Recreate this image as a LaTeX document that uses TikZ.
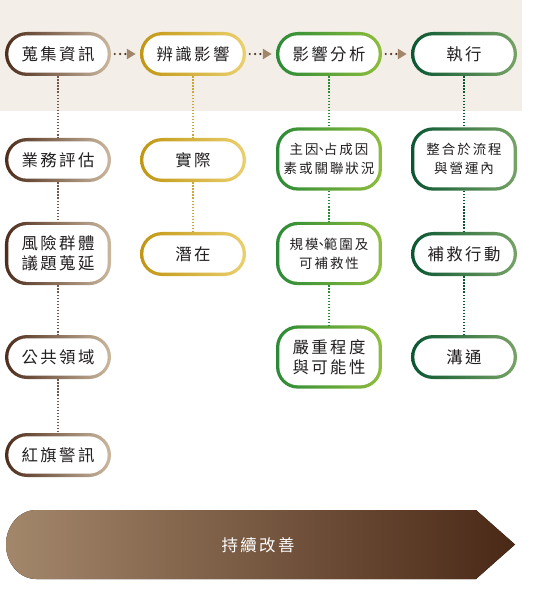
\documentclass[tikz,border=0pt]{standalone}
\usepackage{fontspec}
\newfontfamily\cjk[LetterSpace=15]{Noto Sans CJK TC}
\usetikzlibrary{arrows.meta, calc}

\definecolor{bandbg}{HTML}{F3EEE7}
\definecolor{brownL}{HTML}{4E2D1C}
\definecolor{brownR}{HTML}{CBB89F}
\definecolor{goldL}{HTML}{C19614}
\definecolor{goldR}{HTML}{EBD06F}
\definecolor{greenL}{HTML}{2B8A36}
\definecolor{greenR}{HTML}{8FBD3D}
\definecolor{dgreenL}{HTML}{0A5631}
\definecolor{dgreenR}{HTML}{77A366}
\definecolor{bannerL}{HTML}{A3876B}
\definecolor{bannerR}{HTML}{4A2816}
\definecolor{dotbrown}{HTML}{4E3022}
\definecolor{tipbrown}{HTML}{A2866A}
\definecolor{inktext}{HTML}{231F20}

\newcommand{\dunhao}{\kern-0.3em、\kern-0.3em}

\begin{document}
\begin{tikzpicture}[
    x=0.03cm, y=-0.03cm,
    pill/.style={minimum width=3.18cm, minimum height=1.32cm, rounded corners=0.66cm,
        inner sep=0pt, align=center, text=inktext, font=\cjk\fontsize{14}{17}\selectfont,
        path picture={\fill[white, rounded corners=0.56cm]
            ($(path picture bounding box.south west)+(0.1cm,0.1cm)$) rectangle
            ($(path picture bounding box.north east)-(0.1cm,0.1cm)$);}},
    tallpill/.style={pill, minimum height=1.9cm},
    smalltext/.style={font=\cjk\fontsize{11.5}{16.5}\selectfont},
    brownpill/.style={pill, left color=brownL, right color=brownR},
    goldpill/.style={pill, left color=goldL, right color=goldR},
    greenpill/.style={pill, left color=greenL, right color=greenR},
    dgreenpill/.style={pill, left color=dgreenL, right color=dgreenR},
    flowarrow/.style={dotbrown, line width=2.1pt, line cap=round, dash pattern=on 0pt off 4.5pt,
        shorten <=3pt, shorten >=3.5pt, -{Triangle[length=7.5pt, width=8.5pt, color=tipbrown]}},
    chain/.style={line width=1.2pt, dash pattern=on 1.2pt off 1.4pt},
]

\useasboundingbox (0,0) rectangle (534,595);

% Top band
\fill[bandbg] (0,0) rectangle (522,111);

% Main steps
\node[brownpill] (collect) at (58,54) {蒐集資訊};
\node[goldpill] (identify) at (193,54) {辨識影響};
\node[greenpill] (analyse) at (329,54) {影響分析};
\node[dgreenpill] (execute) at (464,54) {執行};

% Column 1
\node[brownpill] (bizeval) at (58,160) {業務評估};
\node[brownpill, tallpill] (riskgrp) at (58,253.5) {風險群體\\議題蒐延};
\node[brownpill] (public) at (58,357) {公共領域};
\node[brownpill] (redflag) at (58,455) {紅旗警訊};

% Column 2
\node[goldpill] (actual) at (193,160) {實際};
\node[goldpill] (latent) at (193,254) {潛在};

% Column 3
\node[greenpill, tallpill, smalltext] (cause) at (329,159) {主因\dunhao 占成因\\素或關聯狀況};
\node[greenpill, tallpill, smalltext] (scope) at (329,253.5) {規模\dunhao 範圍及\\可補救性};
\node[greenpill, tallpill] (severity) at (329,357) {嚴重程度\\與可能性};

% Column 4
\node[dgreenpill, tallpill, smalltext] (integrate) at (464,159) {整合於流程\\與營運內};
\node[dgreenpill] (remedy) at (464,254) {補救行動};
\node[dgreenpill] (comm) at (464,357) {溝通};

% Flow between main steps
\draw[flowarrow] (collect.east) -- (identify.west);
\draw[flowarrow] (identify.east) -- (analyse.west);
\draw[flowarrow] (analyse.east) -- (execute.west);

% Vertical chains
\draw[chain, brownL!80] (collect.south) -- (bizeval.north) (bizeval.south) -- (riskgrp.north)
    (riskgrp.south) -- (public.north) (public.south) -- (redflag.north);
\draw[chain, goldL!85] (identify.south) -- (actual.north) (actual.south) -- (latent.north);
\draw[chain, greenL] (analyse.south) -- (cause.north) (cause.south) -- (scope.north)
    (scope.south) -- (severity.north);
\draw[chain, dgreenL] (execute.south) -- (integrate.north) (integrate.south) -- (remedy.north)
    (remedy.south) -- (comm.north);

% Banner
\fill[left color=bannerL, right color=bannerR]
    (36,510) -- (476,510) -- (515,544.5) -- (476,579) -- (36,579)
    .. controls (19.5,579) and (6,563.5) .. (6,544.5)
    .. controls (6,525.5) and (19.5,510) .. cycle;
\node[text=white, font=\cjk\fontsize{14}{17}\selectfont] (improve) at (258,545) {持續改善};

\end{tikzpicture}
\end{document}
